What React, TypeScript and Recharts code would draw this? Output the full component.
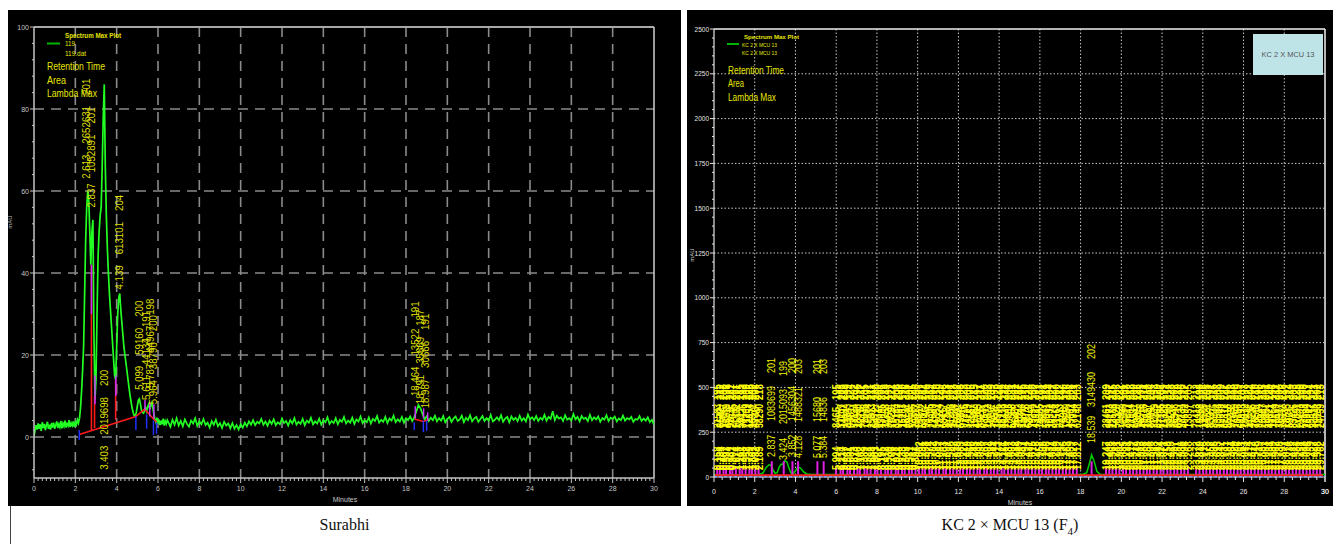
import React from 'react'
import { ComposedChart, Line, Scatter, XAxis, YAxis, ReferenceLine, CartesianGrid } from 'recharts'

const FONT = '"Liberation Sans", Arial, sans-serif'

// ---------- Surabhi (left run) ----------
// trace sampled every 0.05 min from 0.00 to 6.45 min (mAU)
const surabhiStepEarly = 0.05
const surabhiEarly = [
  0.2, 1.6, 2.9, 1.8, 3.3, 2.0, 3.1, 1.5, 3.6, 2.2,
  3.2, 1.7, 2.8, 3.7, 2.0, 3.0, 1.8, 3.4, 2.3, 3.5,
  2.0, 2.9, 3.8, 2.2, 3.1, 2.4, 3.9, 2.1, 3.3, 2.6,
  4.0, 2.3, 3.2, 2.7, 4.1, 2.4, 3.4, 2.8, 3.8, 2.5,
  3.6, 3.0, 4.2, 3.4, 4.5, 7, 11, 16, 22, 35,
  48, 56, 60, 58, 50, 42, 50, 53, 25, 9,
  14, 30, 44, 50, 54, 56, 66, 78, 86, 66,
  54, 46, 40, 35, 31, 27, 23, 19, 15, 14,
  22, 30, 34, 35, 31, 28, 25, 22, 20, 18,
  16, 14, 12, 10, 8.5, 7, 6, 5.2, 5, 6,
  7.5, 9, 9.3, 8, 6.5, 6, 5.8, 6.4, 7.1, 6.3,
  7.4, 8.0, 6.9, 7.6, 8.3, 7.1, 5.6, 4.3, 3.6, 4.7,
  3.3, 4.2, 2.9, 4.0, 3.1, 4.5, 2.8, 3.9, 3.2, 4.1,
]
// trace sampled every 0.1 min from 6.5 to 30.0 min (mAU)
const surabhiLateStart = 6.5
const surabhiStepLate = 0.1
const surabhiLate = [
  3.6, 2.5, 4.2, 3.0, 4.6, 2.8, 3.9, 2.6, 4.3, 3.2,
  2.5, 4.0, 3.3, 4.6, 2.7, 3.8, 3.1, 4.4, 2.9, 3.5,
  2.3, 3.9, 3.0, 4.2, 2.6, 3.4, 2.2, 3.7, 2.8, 3.3,
  2.1, 3.4, 2.0, 2.9, 1.8, 3.1, 2.3, 3.5, 2.6, 3.8,
  3.0, 4.1, 2.9, 3.7, 3.3, 4.4, 3.0, 3.8, 2.7, 4.0,
  3.2, 4.3, 2.9, 3.6, 3.1, 4.5, 3.4, 3.9, 2.8, 4.1,
  3.3, 4.6, 3.0, 3.7, 3.2, 4.4, 2.9, 4.0, 3.5, 4.7,
  3.1, 3.8, 3.3, 4.5, 3.0, 4.1, 3.6, 4.8, 3.2, 3.9,
  3.4, 4.6, 3.1, 4.2, 3.7, 4.9, 3.3, 4.0, 3.5, 4.7,
  3.2, 4.3, 3.8, 5.0, 3.4, 4.1, 3.6, 4.8, 3.3, 4.4,
  3.9, 5.1, 3.5, 4.2, 3.7, 4.9, 3.4, 4.5, 4.0, 5.2,
  3.6, 4.3, 3.8, 4.9, 3.5, 4.6, 4.1, 5.0, 3.9, 4.8,
  6.2, 7.8, 7.0, 5.6, 4.3, 5.0, 3.9, 4.7, 4.1, 5.2,
  3.8, 4.6, 4.0, 5.1, 3.6, 4.4, 4.9, 3.7, 4.5, 5.0,
  3.9, 4.3, 5.2, 3.6, 4.7, 4.1, 5.3, 3.8, 4.5, 4.9,
  3.7, 4.4, 5.1, 3.9, 4.6, 4.0, 5.4, 3.8, 4.2, 4.8,
  4.1, 5.3, 3.7, 4.5, 4.9, 3.6, 5.0, 4.2, 4.7, 3.9,
  5.2, 4.0, 4.6, 3.8, 5.5, 4.3, 4.8, 4.1, 5.1, 3.9,
  4.7, 4.2, 5.4, 4.0, 4.9, 4.4, 6.3, 4.1, 5.2, 4.5,
  4.8, 3.9, 5.3, 4.2, 4.6, 4.0, 5.6, 4.3, 4.9, 3.8,
  5.1, 4.4, 4.7, 3.9, 5.4, 4.1, 4.8, 4.3, 5.0, 3.7,
  4.6, 4.2, 5.3, 3.9, 4.7, 4.4, 5.0, 3.8, 4.5, 4.1,
  5.2, 4.0, 4.6, 4.3, 4.9, 3.7, 4.4, 4.2, 5.1, 3.9,
  4.5, 4.0, 4.8, 3.6, 4.2, 3.0,
]

// integration baselines (min, mAU)
const surabhiBaseA = [[2.19, 0.6], [4.93, 5.0], [5.35, 6.8], [5.93, 3.6]]
const surabhiBaseB = [[18.4, 4.4], [18.84, 3.8], [19.05, 4.2]]
// drop lines: time, from, to
const surabhiDrops = [[2.78, 1.6, 42], [2.93, 2.2, 10], [3.95, 4.2, 14]]
const surabhiPinkMarks = [[2.78, 30, 42], [2.95, 8, 15], [3.96, 10, 15], [5.37, 6.5, 9], [5.6, 5, 8.5], [5.8, 4.5, 8], [18.45, 4.5, 7.5], [18.85, 4.5, 7], [19.05, 4, 6]]
const surabhiBlueMarks = [[2.19, -0.7, 1.7], [4.93, 1.7, 5], [5.45, 2, 5.5], [5.78, 0.5, 4], [5.93, 0.8, 3.5], [18.4, 1.7, 3.6], [18.84, 1.2, 4], [19.0, 1.5, 4]]

// peak annotations
const surabhiPeakAt = [2.56, 2.8, 3.4, 4.13, 5.08, 5.45, 5.62, 5.8, 18.46, 18.72, 18.95]
const surabhiPeakLabelY = [63, 56, -8, 36, 11.5, 9, 12, 8, 10, 8, 7]
const surabhiPeakRt = ['2.613', '2.837', '3.403', '4.139', '5.099', '5.611', '5.787', '5.964', '18.464', '18.791', '18.987']
const surabhiPeakArea = ['2652631', '1052891', '2019698', '613101', '59160', '44134', '44967', '38790', '13522', '35669', '30666']
const surabhiPeakLambda = ['201', '201', '200', '204', '200', '191', '198', '200', '191', '187', '191']

// ---------- KC 2 x MCU 13 (right run) ----------
const hybridTraceT = [0, 2.2, 2.4, 2.55, 2.7, 2.8, 2.9, 3.0, 3.1, 3.2, 3.3, 3.38, 3.48, 3.58, 3.68, 3.78, 3.9, 4.0, 4.12, 4.25, 4.4, 4.55, 4.8, 6.0, 18.1, 18.3, 18.42, 18.54, 18.66, 18.8, 18.95, 19.3, 30]
const hybridTraceV = [12, 13, 22, 52, 68, 66, 40, 20, 24, 55, 72, 70, 90, 84, 50, 22, 19, 35, 56, 50, 28, 17, 14, 14, 14, 24, 70, 123, 90, 32, 15, 14, 14]

// small integrated peaks
const hybridPeakTimes = [
  0.158, 0.284, 0.467, 0.593, 0.781, 0.902, 1.074, 1.261, 1.388, 1.552, 1.739, 1.861, 2.032, 2.189,
  5.994, 6.214, 6.337, 6.552, 6.681, 6.873, 7.046, 7.162, 7.389, 7.521, 7.688, 7.903, 8.027, 8.195, 8.412, 8.539,
  8.706, 8.921, 9.048, 9.233, 9.365, 9.581, 9.717, 9.894, 10.062, 10.231, 10.358, 10.574, 10.702, 10.889, 11.047,
  11.263, 11.391, 11.586, 11.742, 11.918, 12.083, 12.227, 12.419, 12.566, 12.745, 12.931, 13.058, 13.267, 13.402,
  13.589, 13.744, 13.913, 14.121, 14.256, 14.437, 14.603, 14.782, 14.949, 15.087, 15.294, 15.431, 15.615, 15.778,
  15.952, 16.108, 16.296, 16.437, 16.614, 16.789, 16.942, 17.126, 17.283, 17.459, 17.627, 17.812,
  19.247, 19.408, 19.563, 19.741, 19.902, 20.085, 20.231, 20.419, 20.577, 20.749, 20.913, 21.088, 21.254,
  21.396, 21.583, 21.742, 21.924, 22.071, 22.258, 22.413, 22.597, 22.751, 22.936, 23.094, 23.268,
  23.672, 23.839, 24.016, 24.173, 24.352, 24.508, 24.693, 24.847, 25.031, 25.187, 25.364, 25.529, 25.706,
  25.861, 26.043, 26.214, 26.372, 26.548, 26.719, 26.887, 27.053, 27.231, 27.389, 27.562, 27.738, 27.897,
  28.074, 28.236, 28.412, 28.583, 28.751, 28.918, 29.094, 29.259, 29.427, 29.598, 29.762,
]
const hybridPeakAreas = [
  21583, 8642, 134907, 45219, 9873, 27645, 163082, 5917, 38426, 71209, 12854, 96371, 4738, 58290,
  8465, 31207, 14592, 206843, 9381, 57124, 18936, 4275, 72648, 139054, 25813, 6472, 88317, 43096, 11758, 264931,
  7629, 35184, 92467, 15203, 48731, 6958, 123586, 29417, 184620, 53872, 9146, 76305, 21689, 347152, 13924,
  68417, 8753, 41268, 157834, 26591, 5384, 97216, 34729, 12687, 219463, 47185, 8926, 63541, 19872,
  142307, 7358, 38946, 85213, 16429, 274915, 52368, 9647, 31852, 117493, 24076, 6813, 79254, 43917,
  14385, 198627, 57041, 10932, 36278, 91564, 22713, 7496, 128359, 45682, 17934, 62148,
  28461, 94173, 12586, 58329, 7142, 163948, 35217, 21904, 76531, 9385, 142768, 49316, 15827,
  8694, 237519, 31462, 67185, 11329, 53796, 184207, 26948, 8571, 97134, 40692, 13857,
  72413, 19268, 136905, 44721, 8397, 251836, 33584, 12649, 87312, 56918, 9743, 173429, 28156,
  64893, 15372, 109547, 41236, 7859, 92614, 23487, 318652, 49871, 11264, 78359, 36917, 146283,
  18745, 5931, 83426, 27591, 204673, 52138, 13984, 69847, 32516, 118293, 24759,
]
const hybridPeakLambdas = [
  195, 212, 203, 198, 221, 207, 201, 215, 193, 209, 226, 200, 204, 218,
  195, 208, 213, 199, 224, 202, 196, 217, 205, 191, 211, 228, 200, 206, 214, 197,
  222, 203, 209, 190, 216, 201, 225, 198, 207, 212, 194, 219, 204, 210, 229,
  196, 213, 201, 218, 192, 208, 223, 200, 205, 215, 197, 211, 226, 203,
  209, 193, 220, 199, 214, 206, 231, 202, 217, 195, 210, 224, 198, 207,
  213, 191, 219, 204, 227, 200, 212, 196, 216, 208, 221, 203,
  209, 197, 215, 203, 222, 191, 208, 213, 200, 226, 195, 211, 218,
  204, 193, 220, 207, 199, 214, 228, 202, 210, 196, 217, 205,
  212, 198, 224, 205, 191, 216, 203, 209, 227, 195, 213, 200, 219,
  207, 193, 222, 204, 210, 198, 215, 201, 229, 196, 211, 206, 218,
  192, 214, 203, 225, 199, 208, 217, 194, 221, 202, 213,
]
const hybridBandLevel = 39

// larger peaks with their own labels
const hybridMajorTimes = [2.837, 3.424, 3.852, 4.128, 5.077, 5.384, 18.539]
const hybridMajorAreas = ['1083699', '2015093', '1456304', '1488321', '15680', '14836', '3149430']
const hybridMajorLambdas = ['201', '199', '200', '203', '201', '203', '202']
const hybridMajorLabelY = [112, 95, 112, 106, 106, 106, 190]

// ---------- helpers ----------
const range = (a: number, b: number, step: number) => {
  const out: number[] = []
  for (let v = a; v <= b + 1e-9; v += step) out.push(+v.toFixed(3))
  return out
}

const isOn = (v: number, step: number) => Math.abs(v / step - Math.round(v / step)) < 1e-6

const textLen = (s: string, cw: number) => {
  let n = 0
  for (const ch of s) n += ch === '.' ? 0.45 : 1
  return n * cw
}

function VText({ x, y, s, len, fs, fill, bold }: any) {
  const ax = x + fs * 0.36
  return (
    <text x={ax} y={y} transform={`rotate(-90 ${ax} ${y})`} textLength={len} lengthAdjust="spacingAndGlyphs"
      fontSize={fs} fontWeight={bold ? 'bold' : 'normal'} fill={fill} fontFamily={FONT}>{s}</text>
  )
}

const stackedLabel = (cw: number, fs: number, gap: number, fill: string) => (p: any) => {
  const { cx, cy, payload } = p
  if (cx == null || cy == null) return <g />
  const l1 = textLen(payload.rt, cw)
  const l2 = textLen(payload.area, cw)
  const y2 = cy - l1 - gap
  const y3 = y2 - l2 - gap
  return (
    <g>
      <VText x={cx} y={cy} s={payload.rt} len={l1} fs={fs} fill={fill} />
      <VText x={cx} y={y2} s={payload.area} len={l2} fs={fs} fill={fill} />
      <VText x={cx} y={y3} s={payload.lambda} len={textLen(payload.lambda, cw)} fs={fs} fill={fill} />
    </g>
  )
}

// rows at fixed pixel offsets; area / lambda squeezed into a fixed length band
const bandLabel = (cw: number, fs: number, off2: number, off3: number, maxArea: number, fill: string, bold: boolean) => (p: any) => {
  const { cx, cy, payload } = p
  if (cx == null || cy == null) return <g />
  return (
    <g>
      <VText x={cx} y={cy} s={payload.rt} len={textLen(payload.rt, cw)} fs={fs} fill={fill} bold={bold} />
      <VText x={cx} y={cy - off2} s={payload.area} len={Math.min(textLen(payload.area, cw), maxArea)} fs={fs} fill={fill} bold={bold} />
      <VText x={cx} y={cy - off3} s={payload.lambda} len={textLen(payload.lambda, cw)} fs={fs} fill={fill} bold={bold} />
    </g>
  )
}

const makeXTick = (color: string, major: number, labelDy: number, fs: number) => (p: any) => {
  const v = Number(p.payload.value)
  const m = isOn(v, major)
  return (
    <g>
      <line x1={p.x} x2={p.x} y1={p.y} y2={p.y + (m ? 5 : 3)} stroke={color} strokeWidth={1} />
      {m && <text x={p.x} y={p.y + labelDy} textAnchor="middle" fontSize={fs} fill={color} fontFamily={FONT}>{Math.round(v)}</text>}
    </g>
  )
}

const makeYTick = (color: string, major: number, fs: number) => (p: any) => {
  const v = Number(p.payload.value)
  const m = isOn(v, major)
  return (
    <g>
      <line x1={p.x} x2={p.x - (m ? 4 : 2)} y1={p.y} y2={p.y} stroke={color} strokeWidth={1} />
      {m && <text x={p.x - 5} y={p.y + 2.5} textAnchor="end" fontSize={fs} fill={color} fontFamily={FONT}>{Math.round(v)}</text>}
    </g>
  )
}

// ---------- data tables ----------
const surabhiTrace = [
  ...surabhiEarly.map((v, i) => ({ t: +(i * surabhiStepEarly).toFixed(2), v })),
  ...surabhiLate.map((v, i) => ({ t: +(surabhiLateStart + i * surabhiStepLate).toFixed(2), v })),
]
const surabhiLabels = surabhiPeakAt.map((t, i) => ({
  t, v: surabhiPeakLabelY[i], rt: surabhiPeakRt[i], area: surabhiPeakArea[i], lambda: surabhiPeakLambda[i],
}))
const toPts = (arr: number[][]) => arr.map(([t, v]) => ({ t, v }))

const hybridTrace = hybridTraceT.map((t, i) => ({ t, v: hybridTraceV[i] }))
const hybridBandLabels = hybridPeakTimes.map((t, i) => ({
  t, v: hybridBandLevel, rt: t.toFixed(3), area: String(hybridPeakAreas[i] ?? ''), lambda: String(hybridPeakLambdas[i] ?? ''),
}))
const hybridMajorLabels = hybridMajorTimes.map((t, i) => ({
  t, v: hybridMajorLabelY[i], rt: t.toFixed(3), area: hybridMajorAreas[i], lambda: hybridMajorLambdas[i],
}))

// ---------- charts ----------
function SurabhiChart() {
  const axisColor = '#c4c4c4'
  return (
    <ComposedChart width={673} height={496} margin={{ top: 17, right: 27, bottom: 0, left: 0 }}>
      <CartesianGrid stroke="#8a8a8a" strokeWidth={1.6} strokeDasharray="10 7"
        verticalValues={[2, 4, 6, 8, 10, 12, 14, 16, 18, 20, 22, 24, 26, 28]}
        horizontalValues={[0, 20, 40, 60, 80]} />
      <XAxis type="number" dataKey="t" domain={[0, 30]} allowDataOverflow height={28}
        ticks={range(0, 30, 0.2)} interval={0} tickSize={0} tickMargin={0} tickLine={false}
        axisLine={{ stroke: axisColor, strokeWidth: 1.5 }} tick={makeXTick(axisColor, 2, 13, 7)} />
      <YAxis type="number" domain={[-10, 100]} allowDataOverflow width={26}
        ticks={range(-8, 100, 4)} interval={0} tickSize={0} tickMargin={0} tickLine={false}
        axisLine={{ stroke: axisColor, strokeWidth: 1.5 }} tick={makeYTick(axisColor, 20, 7)} />
      <ReferenceLine y={100} stroke="#a8a8a8" strokeWidth={2} />
      <ReferenceLine x={30} stroke="#d0d0d0" strokeWidth={1.5} />
      <Line data={surabhiTrace} dataKey="v" stroke="#22ff22" strokeWidth={1.7} dot={false} activeDot={false} isAnimationActive={false} />
      <Line data={toPts(surabhiBaseA)} dataKey="v" stroke="#ff1a1a" strokeWidth={1.6} dot={false} activeDot={false} isAnimationActive={false} />
      <Line data={toPts(surabhiBaseB)} dataKey="v" stroke="#ff1a1a" strokeWidth={1.6} dot={false} activeDot={false} isAnimationActive={false} />
      {surabhiDrops.map(([t, a, b], i) => (
        <ReferenceLine key={'d' + i} segment={[{ x: t, y: a }, { x: t, y: b }]} stroke="#ff1a1a" strokeWidth={1.6} />
      ))}
      {surabhiPinkMarks.map(([t, a, b], i) => (
        <ReferenceLine key={'p' + i} segment={[{ x: t, y: a }, { x: t, y: b }]} stroke="#cc33ff" strokeWidth={1.5} />
      ))}
      {surabhiBlueMarks.map(([t, a, b], i) => (
        <ReferenceLine key={'b' + i} segment={[{ x: t, y: a }, { x: t, y: b }]} stroke="#2030ff" strokeWidth={1.5} />
      ))}
      <Scatter data={surabhiLabels} dataKey="v" shape={stackedLabel(5.4, 10, 11, '#dede00')} isAnimationActive={false} />
    </ComposedChart>
  )
}

function HybridChart() {
  const axisColor = '#e4e4e4'
  return (
    <ComposedChart width={646} height={496} margin={{ top: 19, right: 8, bottom: 0, left: 0 }}>
      <CartesianGrid stroke="#c8c8c8" strokeWidth={1} strokeDasharray="1.5 2"
        verticalValues={[2, 4, 6, 8, 10, 12, 14, 16, 18, 20, 22, 24, 26, 28]}
        horizontalValues={[250, 500, 750, 1000, 1250, 1500, 1750, 2000, 2250]} />
      <XAxis type="number" dataKey="t" domain={[0, 30]} allowDataOverflow height={29}
        ticks={range(0, 30, 0.4).concat([30])} interval={0} tickSize={0} tickMargin={0} tickLine={false}
        axisLine={{ stroke: axisColor, strokeWidth: 1.2 }} tick={makeXTick(axisColor, 2, 17, 7)} />
      <YAxis type="number" domain={[0, 2500]} allowDataOverflow width={27}
        ticks={range(0, 2500, 50)} interval={0} tickSize={0} tickMargin={0} tickLine={false}
        axisLine={{ stroke: axisColor, strokeWidth: 1.2 }} tick={makeYTick(axisColor, 250, 6.5)} />
      <ReferenceLine y={2500} stroke="#f0f0f0" strokeWidth={1.5} />
      <ReferenceLine x={30} stroke="#f0f0f0" strokeWidth={1.5} />
      <Line data={hybridTrace} dataKey="v" stroke="#00d000" strokeWidth={1.5} dot={false} activeDot={false} isAnimationActive={false} />
      {hybridPeakTimes.map((t, i) => (
        <ReferenceLine key={'m' + i} segment={[{ x: t, y: 12 }, { x: t, y: 60 }]} stroke="#e020e0" strokeWidth={2} />
      ))}
      {hybridMajorTimes.map((t, i) => (
        <ReferenceLine key={'M' + i} segment={[{ x: t, y: 12 }, { x: t, y: 88 }]} stroke="#e020e0" strokeWidth={2} />
      ))}
      <Line data={[{ t: 0.05, v: 10 }, { t: 29.9, v: 10 }]} dataKey="v" stroke="#ff2020" strokeWidth={2} dot={false} activeDot={false} isAnimationActive={false} />
      <ReferenceLine y={2} stroke="#3050ff" strokeWidth={1.5} strokeDasharray="3 2" />
      <Scatter data={hybridBandLabels} dataKey="v" shape={bandLabel(5.3, 11, 42, 70, 24, '#ffff00', true)} isAnimationActive={false} />
      <Scatter data={hybridMajorLabels} dataKey="v" shape={bandLabel(5, 10, 36, 84, 40, '#f4f400', false)} isAnimationActive={false} />
    </ComposedChart>
  )
}

export default function App() {
  const yellow = '#e6e600'
  return (
    <div style={{ position: 'absolute', left: 0, top: 0, width: 1338, height: 544, background: '#fff', overflow: 'hidden' }}>
      <div style={{ position: 'absolute', left: 8, top: 10, width: 673, height: 496, background: '#000' }}>
        <SurabhiChart />
      </div>
      <div style={{ position: 'absolute', left: 687, top: 10, width: 646, height: 496, background: '#000' }}>
        <HybridChart />
      </div>
      <div style={{ position: 'absolute', left: 10, top: 506, width: 1, height: 38, background: '#444' }} />
      <div style={{ position: 'absolute', left: 8, top: 516, width: 673, textAlign: 'center', fontFamily: '"Liberation Serif", serif', fontSize: 16, lineHeight: '18px', color: '#111' }}>
        Surabhi
      </div>
      <div style={{ position: 'absolute', left: 687, top: 516, width: 646, textAlign: 'center', fontFamily: '"Liberation Serif", serif', fontSize: 16, lineHeight: '18px', color: '#111' }}>
        KC 2 × MCU 13 (F<span style={{ fontSize: 11, position: 'relative', top: 5 }}>4</span>)
      </div>
      <svg width={1338} height={544} style={{ position: 'absolute', left: 0, top: 0, pointerEvents: 'none' }}>
        {/* left legend */}
        <text x={65} y={37.5} fontSize={7} fontWeight="bold" fill={yellow} fontFamily={FONT} textLength={56} lengthAdjust="spacingAndGlyphs">Spectrum Max Plot</text>
        <line x1={47} x2={60} y1={43.5} y2={43.5} stroke="#00b400" strokeWidth={2} />
        <text x={65} y={46} fontSize={7} fill={yellow} fontFamily={FONT} textLength={10} lengthAdjust="spacingAndGlyphs">119</text>
        <text x={65} y={56} fontSize={7} fill={yellow} fontFamily={FONT} textLength={21} lengthAdjust="spacingAndGlyphs">119.dat</text>
        <text x={47} y={70} fontSize={11} fill={yellow} fontFamily={FONT} textLength={58} lengthAdjust="spacingAndGlyphs">Retention Time</text>
        <text x={47} y={84} fontSize={11} fill={yellow} fontFamily={FONT} textLength={19} lengthAdjust="spacingAndGlyphs">Area</text>
        <text x={47} y={96.5} fontSize={11} fill={yellow} fontFamily={FONT} textLength={50} lengthAdjust="spacingAndGlyphs">Lambda Max</text>
        <text x={12} y={222} fontSize={6} fill="#b8b8b8" fontFamily={FONT} textAnchor="middle" transform="rotate(-90 12 222)">mAU</text>
        <text x={345} y={502} fontSize={7} fill="#c8c8c8" fontFamily={FONT} textAnchor="middle">Minutes</text>
        {/* right legend */}
        <text x={744} y={39} fontSize={6} fontWeight="bold" fill={yellow} fontFamily={FONT} textLength={55} lengthAdjust="spacingAndGlyphs">Spectrum Max Plot</text>
        <line x1={727} x2={739} y1={44} y2={44} stroke="#00b400" strokeWidth={2} />
        <text x={742} y={46.5} fontSize={5} fill={yellow} fontFamily={FONT} textLength={35} lengthAdjust="spacingAndGlyphs">KC 2 X MCU 13</text>
        <text x={742} y={55} fontSize={5} fill={yellow} fontFamily={FONT} textLength={35} lengthAdjust="spacingAndGlyphs">KC 2 X MCU 13</text>
        <text x={728} y={74} fontSize={10} fill={yellow} fontFamily={FONT} textLength={56} lengthAdjust="spacingAndGlyphs">Retention Time</text>
        <text x={728} y={87} fontSize={10} fill={yellow} fontFamily={FONT} textLength={16} lengthAdjust="spacingAndGlyphs">Area</text>
        <text x={728} y={100.5} fontSize={10} fill={yellow} fontFamily={FONT} textLength={48} lengthAdjust="spacingAndGlyphs">Lambda Max</text>
        <text x={694} y={255} fontSize={6} fill="#d0d0d0" fontFamily={FONT} textAnchor="middle" transform="rotate(-90 694 255)">mAU</text>
        <text x={1020} y={505} fontSize={7} fill="#d0d0d0" fontFamily={FONT} textAnchor="middle">Minutes</text>
        <rect x={1253} y={34} width={70} height={41} fill="#bfe4e8" />
        <text x={1288} y={57} fontSize={8} fill="#555" fontFamily={FONT} textAnchor="middle" textLength={53} lengthAdjust="spacingAndGlyphs">KC 2 X MCU 13</text>
      </svg>
    </div>
  )
}
